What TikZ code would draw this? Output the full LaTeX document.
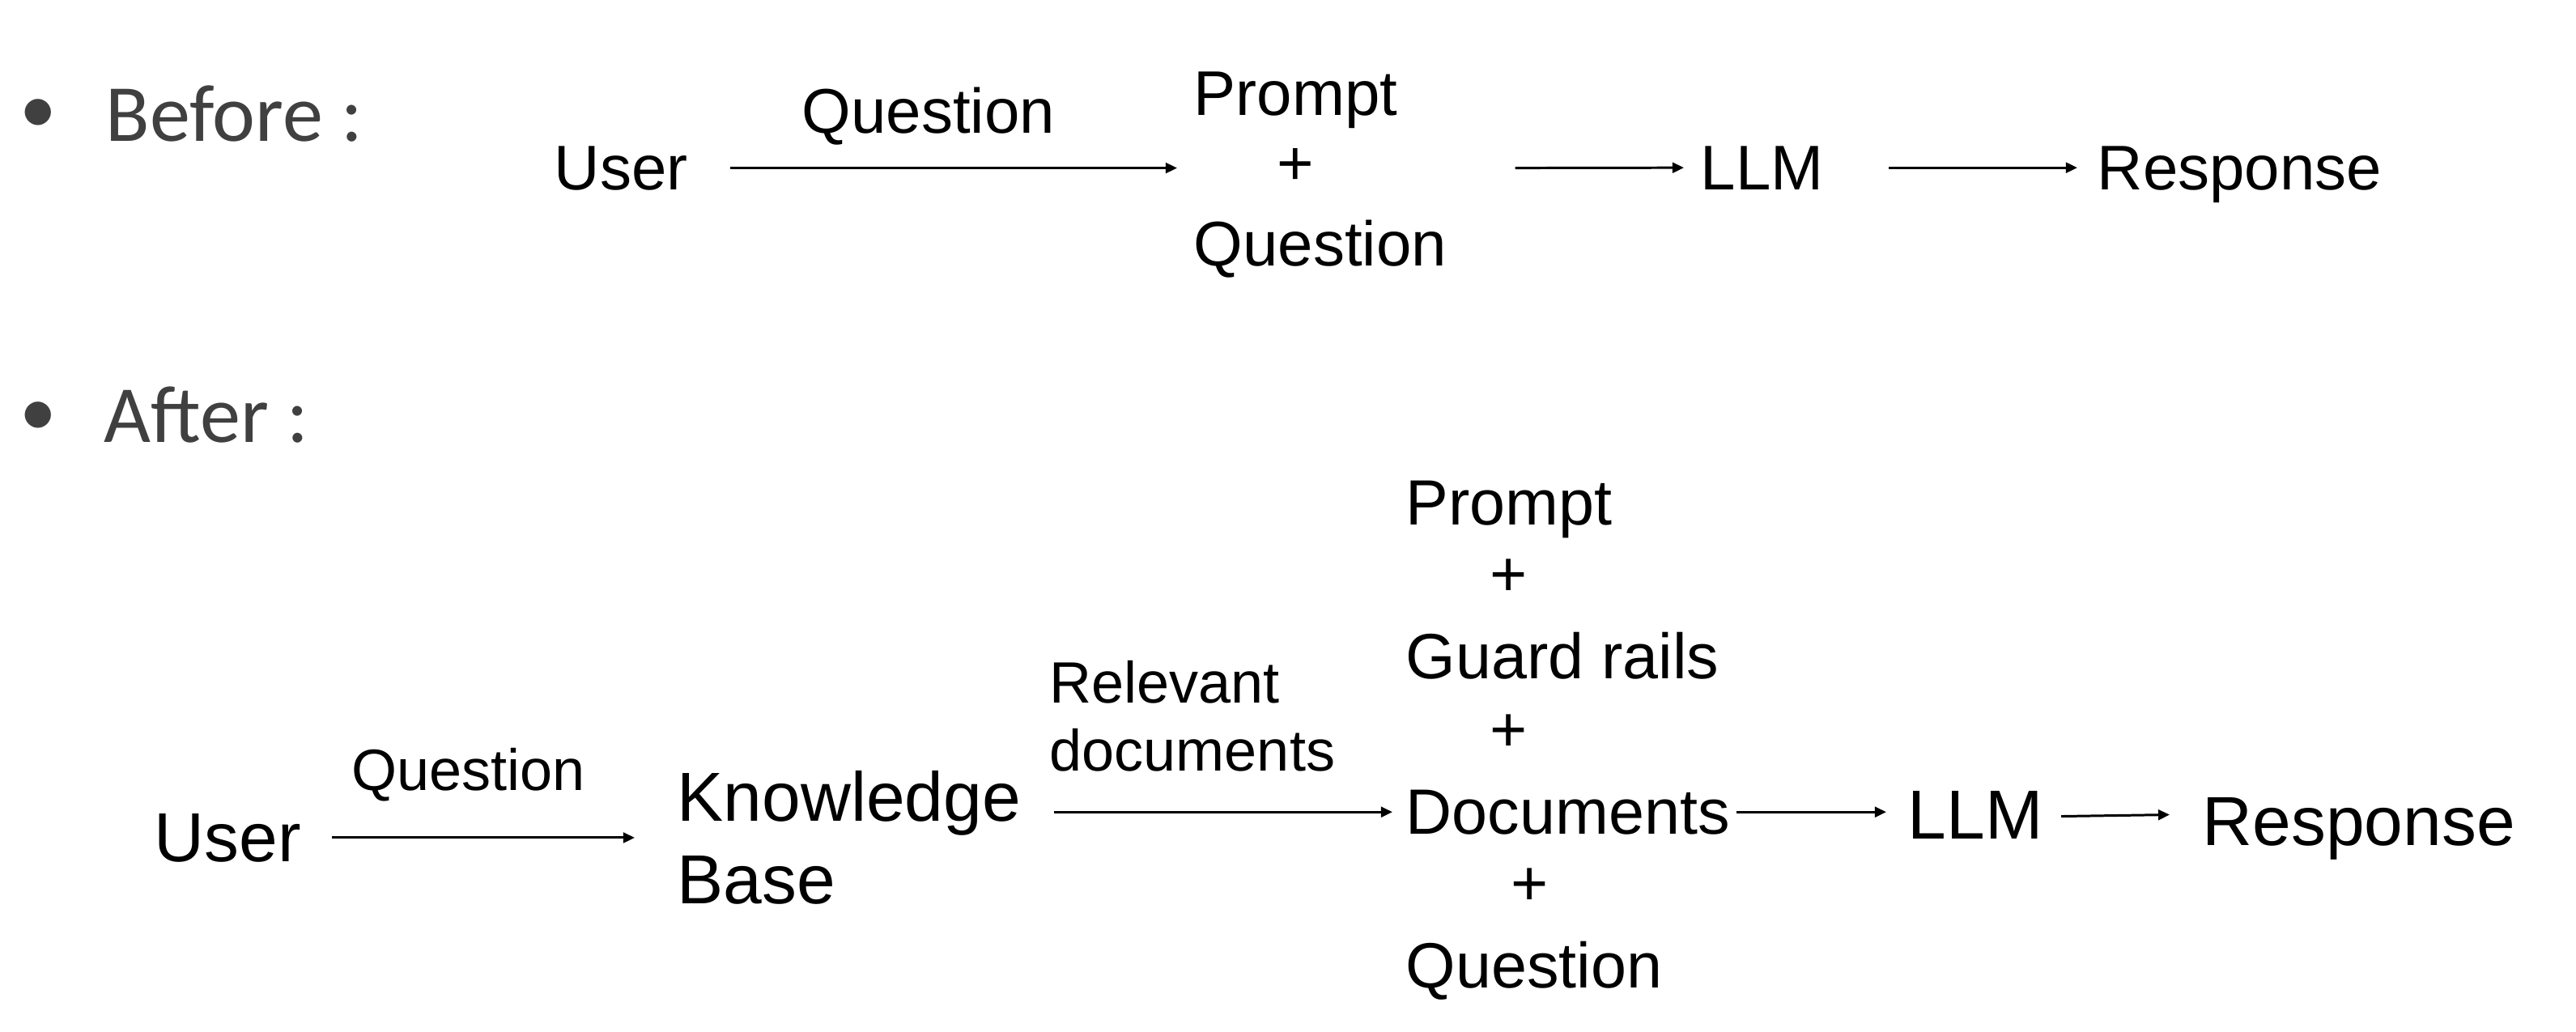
\documentclass[tikz,border=0pt]{standalone}
\usepackage{fontspec}
\setmainfont{Liberation Sans}
\newfontfamily\calibri{Carlito}
\usetikzlibrary{arrows.meta}
\definecolor{bulletgray}{HTML}{404040}
\begin{document}
\begin{tikzpicture}[x=0.02cm,y=-0.02cm,
  txt/.style={inner sep=0pt, anchor=base west},
  rowa/.style={txt, font=\fontsize{22.2}{26}\selectfont},
  stk/.style={txt, font=\fontsize{22.5}{26}\selectfont},
  big/.style={txt, font=\fontsize{24.4}{29}\selectfont},
  lbl/.style={txt, font=\fontsize{20.5}{24}\selectfont},
  plusa/.style={inner sep=0pt, anchor=center, font=\fontsize{22.2}{26}\selectfont},
  plusb/.style={inner sep=0pt, anchor=center, font=\fontsize{22.5}{26}\selectfont},
  bul/.style={txt, font=\calibri\fontsize{28.5}{34}\selectfont, text=bulletgray},
  bulmark/.style={inner sep=0pt, anchor=base, font=\calibri\fontsize{26}{30}\selectfont, text=bulletgray},
  arr/.style={-{Triangle[length=4pt,width=3.6pt]}, line width=0.85pt},
]
\useasboundingbox (0,0) rectangle (1591,637);

% bullets
\node[bulmark] (b1) at (23.5,82) {•};
\node[bul] (before) at (65,87) {Before :};
\node[bulmark] (b2) at (23.5,269) {•};
\node[bul] (after) at (64,273) {After :};

% row 1
\node[rowa] (user1) at (342,117) {User};
\node[rowa] (q1lbl) at (495,82) {Question};
\node[rowa] (prompt1) at (737,71) {Prompt};
\node[plusa] (plus1) at (800,103) {+};
\node[rowa] (question1) at (737,164) {Question};
\node[rowa] (llm1) at (1050,117) {LLM};
\node[rowa] (resp1) at (1295,117) {Response};

\draw[arr] ([xshift=26*0.02cm]user1.east) -- ([xshift=-10*0.02cm]question1.west |- user1.east);
\draw[arr] ([xshift=42*0.02cm]question1.east |- user1.east) -- ([xshift=-10*0.02cm]llm1.west);
\draw[arr] ([xshift=40*0.02cm]llm1.east) -- ([xshift=-12*0.02cm]resp1.west |- llm1.east);

% row 2
\node[big] (user2) at (95,532) {User};
\node[lbl] (q2lbl) at (217,488) {Question};
\node[big] (kb1) at (418,507) {Knowledge};
\node[big] (kb2) at (418,558) {Base};
\node[lbl] (rel1) at (648,434) {Relevant};
\node[lbl] (rel2) at (648,476) {documents};

\node[stk] (prompt2) at (868,324) {Prompt};
\node[plusb] (plus2a) at (932,357) {+};
\node[stk] (guard) at (868,419) {Guard rails};
\node[plusb] (plus2b) at (932,453) {+};
\node[stk] (docs) at (868,515) {Documents};
\node[plusb] (plus2c) at (945,548) {+};
\node[stk] (question2) at (868,610) {Question};

\node[big] (llm2) at (1178,518) {LLM};
\node[big] (resp2) at (1360,522) {Response};

\draw[arr] ([xshift=19*0.02cm]user2.east) -- ([xshift=-26*0.02cm]kb1.west |- user2.east);
\draw[arr] ([xshift=20*0.02cm]kb1.east |- docs.west) -- ([xshift=-8*0.02cm]docs.west);
\draw[arr] ([xshift=4*0.02cm]docs.east) -- ([xshift=-13*0.02cm]llm2.west |- docs.east);
\draw[arr] ([xshift=11*0.02cm,yshift=-1*0.02cm]llm2.east) -- ([xshift=-20*0.02cm]resp2.west |- llm2.east);
\end{tikzpicture}
\end{document}
